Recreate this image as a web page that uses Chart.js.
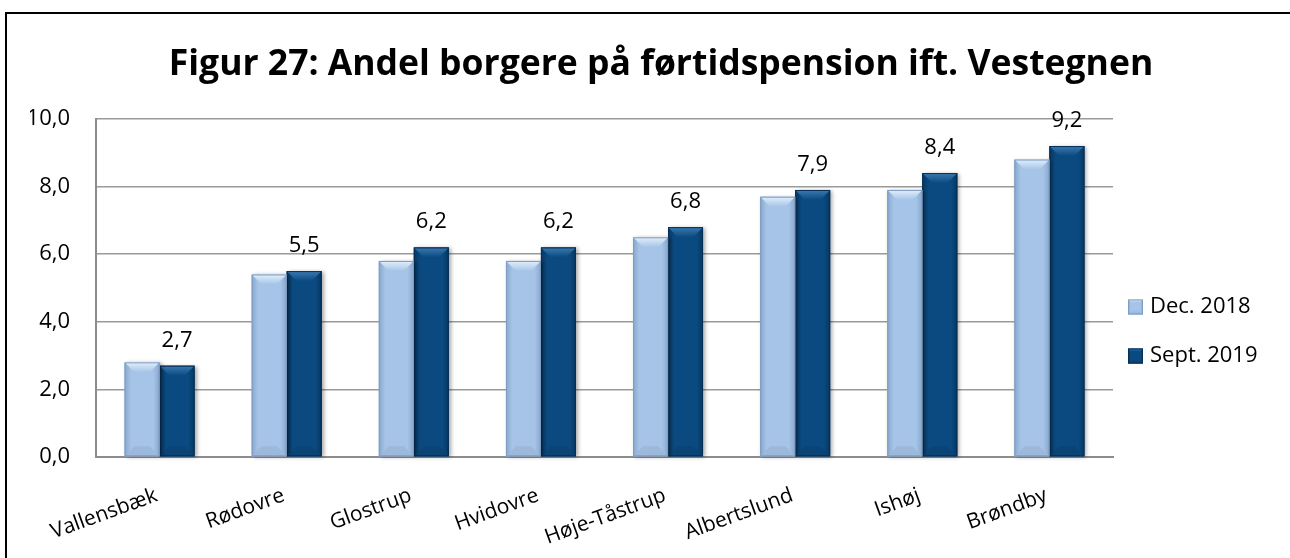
<!DOCTYPE html>
<html>
<head>
<meta charset="utf-8">
<script src="https://cdn.jsdelivr.net/npm/chart.js@4.4.0/dist/chart.umd.min.js"></script>
<style>
    html, body { margin: 0; padding: 0; background: #fff; }
    #wrap { position: relative; width: 1290px; height: 558px; overflow: hidden; }
    #frame { position: absolute; left: 5px; top: 12px; width: 1400px; height: 700px; border: 2px solid #000; box-sizing: border-box; }
    #c { position: absolute; left: 0; top: 0; }
</style>
</head>
<body>
<div id="wrap">
    <div id="frame"></div>
    <canvas id="c" width="1290" height="558"></canvas>
</div>
<script>
// ==================== DATA ====================
const kommuner = ['Vallensbæk', 'Rødovre', 'Glostrup', 'Hvidovre', 'Høje-Tåstrup', 'Albertslund', 'Ishøj', 'Brøndby'];
const dec2018 = [2.8, 5.4, 5.8, 5.8, 6.5, 7.7, 7.9, 8.8];
const sept2019 = [2.7, 5.5, 6.2, 6.2, 6.8, 7.9, 8.4, 9.2];
const seriesNames = ['Dec. 2018', 'Sept. 2019'];

const TITLE = 'Figur 27: Andel borgere på førtidspension ift. Vestegnen';
const FONT = "'Open Sans', sans-serif";

// colours for the bevelled bars
const palettes = [
    { main: '#a6c4e7', edge: '#87a7cd', top: '#e2effb', bottom: '#9cb9dc', line: '#7f9dc2' },
    { main: '#0b4a80', edge: '#063760', top: '#3a7ab2', bottom: '#0a4476', line: '#052f55' }
];

const fmt = v => v.toFixed(1).replace('.', ',');

// ==================== PLUGINS ====================
function drawBevelBox(ctx, pal, l, t, r, b, e, shadow) {
    ctx.save();
    if (shadow) {
        ctx.shadowColor = 'rgba(0,0,0,0.35)';
        ctx.shadowBlur = 4;
        ctx.shadowOffsetX = 2;
        ctx.shadowOffsetY = 1;
    }
    const g = ctx.createLinearGradient(l, 0, r, 0);
    g.addColorStop(0, pal.edge);
    g.addColorStop(0.18, pal.main);
    g.addColorStop(0.82, pal.main);
    g.addColorStop(1, pal.edge);
    ctx.fillStyle = g;
    ctx.fillRect(l, t, r - l, b - t);
    ctx.restore();

    // top bevel
    ctx.beginPath();
    ctx.moveTo(l, t);
    ctx.lineTo(r, t);
    ctx.lineTo(r - e, t + e);
    ctx.lineTo(l + e, t + e);
    ctx.closePath();
    const gt = ctx.createLinearGradient(0, t, 0, t + e);
    gt.addColorStop(0, pal.top);
    gt.addColorStop(1, pal.main);
    ctx.fillStyle = gt;
    ctx.fill();

    // bottom bevel
    ctx.beginPath();
    ctx.moveTo(l, b);
    ctx.lineTo(r, b);
    ctx.lineTo(r - e, b - e);
    ctx.lineTo(l + e, b - e);
    ctx.closePath();
    ctx.fillStyle = pal.bottom;
    ctx.fill();

    ctx.strokeStyle = pal.line;
    ctx.lineWidth = 1;
    ctx.strokeRect(l + 0.5, t + 0.5, r - l - 1, b - t - 1);
}

// redraws every bar with side shading and a bevelled top
const bevelPlugin = {
    id: 'bevel',
    afterDatasetDraw(chart, args) {
        const pal = palettes[args.index];
        args.meta.data.forEach(bar => {
            const l = bar.x - bar.width / 2;
            const r = bar.x + bar.width / 2;
            const e = Math.min(10, bar.width / 3.5, (bar.base - bar.y) / 3);
            drawBevelBox(chart.ctx, pal, l, bar.y, r, bar.base, e, true);
        });
    }
};

// value labels above the Sept. 2019 bars
const valueLabels = {
    id: 'valueLabels',
    afterDatasetsDraw(chart) {
        const ctx = chart.ctx;
        const meta = chart.getDatasetMeta(1);
        ctx.save();
        ctx.font = '22px ' + FONT;
        ctx.fillStyle = '#000';
        ctx.textAlign = 'center';
        ctx.textBaseline = 'alphabetic';
        meta.data.forEach((bar, i) => {
            ctx.fillText(fmt(sept2019[i]), bar.x, bar.y - 19);
        });
        ctx.restore();
    }
};

// title and legend, placed like the original figure
const titleLegend = {
    id: 'titleLegend',
    afterDraw(chart) {
        const ctx = chart.ctx;
        const area = chart.chartArea;
        ctx.save();
        ctx.fillStyle = '#000';
        ctx.font = "bold 35.5px 'Open Sans', sans-serif";
        ctx.textAlign = 'center';
        ctx.textBaseline = 'alphabetic';
        ctx.fillText(TITLE, 661, 75);

        ctx.font = '22px ' + FONT;
        ctx.textAlign = 'left';
        ctx.textBaseline = 'middle';
        seriesNames.forEach((name, i) => {
            const cy = area.bottom - 150 + i * 49;
            const bx = area.right + 15;
            drawBevelBox(ctx, palettes[i], bx, cy - 7.5, bx + 15, cy + 7.5, 3, false);
            ctx.fillStyle = '#000';
            ctx.fillText(name, bx + 22, cy);
        });
        ctx.restore();
    }
};

// ==================== CHART ====================
const ctx = document.getElementById('c').getContext('2d');

new Chart(ctx, {
    type: 'bar',
    data: {
        labels: kommuner,
        datasets: [
            { label: seriesNames[0], data: dec2018, backgroundColor: palettes[0].main },
            { label: seriesNames[1], data: sept2019, backgroundColor: palettes[1].main }
        ]
    },
    options: {
        responsive: false,
        animation: false,
        categoryPercentage: 0.55,
        barPercentage: 1.0,
        layout: { padding: { left: 30, right: 177, top: 119, bottom: 0 } },
        plugins: {
            title: { display: false },
            legend: { display: false },
            tooltip: { enabled: false }
        },
        scales: {
            x: {
                grid: { display: false, drawTicks: false },
                border: { display: true, color: '#8c8c8c', width: 2 },
                ticks: {
                    color: '#000',
                    font: { family: FONT, size: 21 },
                    minRotation: 20,
                    maxRotation: 20,
                    padding: 26,
                    labelOffset: -3,
                    autoSkip: false
                },
                afterFit: scale => { scale.height = 101; }
            },
            y: {
                min: 0,
                max: 10,
                grid: { color: '#9a9a9a', lineWidth: 1.5, drawTicks: false },
                border: { display: true, color: '#8c8c8c', width: 2 },
                ticks: {
                    stepSize: 2,
                    color: '#000',
                    font: { family: FONT, size: 22 },
                    padding: 26,
                    callback: v => fmt(v)
                },
                afterFit: scale => { scale.width = 66; }
            }
        }
    },
    plugins: [bevelPlugin, valueLabels, titleLegend]
});
</script>
</body>
</html>
